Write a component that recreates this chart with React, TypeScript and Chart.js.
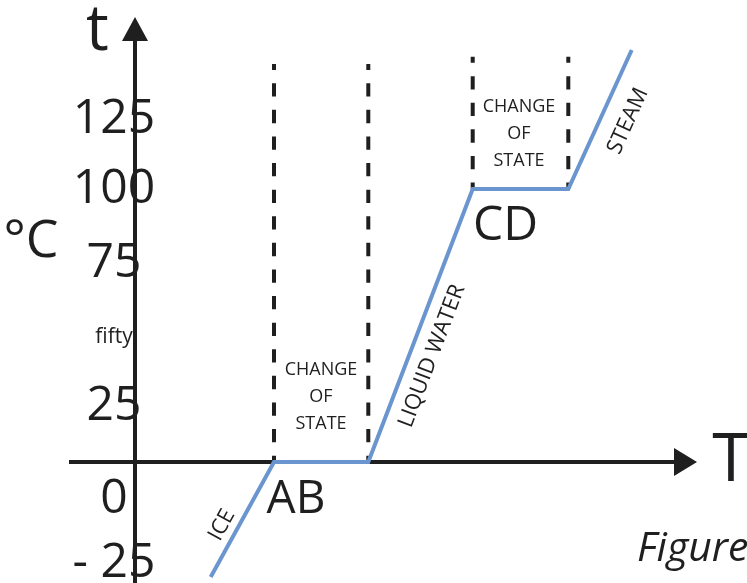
import React, { useEffect, useRef } from "react";
import { Chart, registerables } from "chart.js";

Chart.register(...registerables);

// ---- data (T = heat / time units, temp = °C) ----
const curveT = [7.57, 13.9, 23.33, 33.77, 43.33, 49.67];
const curveTemp = [-42.1, 0, 0, 100, 100, 150.9];

// dashed "change of state" boundaries: at the plateau ends
const dashT = [13.9, 23.33, 33.77, 43.33];
const dashBottom = [0, 0, 100, 100];
const dashTop = [145.8, 145.8, 148.4, 148.4];

// tick labels on the vertical axis and where they sit (°C)
const tickLabels = ["125", "100", "75", "fifty", "25", "0", "- 25"];
const tickAnchors = [120.5, 94.9, 67.8, 43.6, 15.4, -18.7, -42.1];
const tickAnchorT = -2.1;

// axis geometry in data units
const xAxisStartT = -6.6;
const xAxisTipT = 56.2;
const yAxisTipTemp = 163;

// scale ranges
const tMin = -13.5;
const tMax = 61.2;
const tempMin = -44.32;
const tempMax = 169.23;

// text annotations
const phaseLabels = ["ICE", "LIQUID WATER", "STEAM"];
const phaseSegment = [0, 2, 4];
const phaseT = [8.7, 29.7, 49.3];
const phaseTemp = [-23.1, 38.8, 124.9];

const pointLabels = ["AB", "CD"];
const pointLabelT = [16.1, 37.05];
const pointLabelTemp = [-18.7, 81.3];

const stateLines = ["CHANGE", "OF", "STATE"];
const stateT = [18.6, 38.4];
const stateTemp = [31.9, 128.2];

const ink = "#1f1f1f";
const blue = "#6a95cf";
const family = "'Open Sans', 'Noto Sans', sans-serif";

const diagramPlugin = {
  id: "heatingDiagram",
  beforeDatasetsDraw(chart: any) {
    const { ctx, chartArea, scales } = chart;
    const xs = scales.x;
    const ys = scales.y;
    const ox = xs.getPixelForValue(0);
    const oy = ys.getPixelForValue(0);
    ctx.save();
    ctx.strokeStyle = ink;
    ctx.fillStyle = ink;
    ctx.lineWidth = 4;
    // vertical axis
    const yTip = ys.getPixelForValue(yAxisTipTemp);
    ctx.beginPath();
    ctx.moveTo(ox, chartArea.bottom);
    ctx.lineTo(ox, yTip + 20);
    ctx.stroke();
    ctx.beginPath();
    ctx.moveTo(ox, yTip);
    ctx.lineTo(ox - 13, yTip + 24);
    ctx.lineTo(ox + 13, yTip + 24);
    ctx.closePath();
    ctx.fill();
    // horizontal axis
    const xStart = xs.getPixelForValue(xAxisStartT);
    const xTip = xs.getPixelForValue(xAxisTipT);
    ctx.beginPath();
    ctx.moveTo(xStart, oy);
    ctx.lineTo(xTip - 20, oy);
    ctx.stroke();
    ctx.beginPath();
    ctx.moveTo(xTip, oy);
    ctx.lineTo(xTip - 23, oy - 14);
    ctx.lineTo(xTip - 23, oy + 14);
    ctx.closePath();
    ctx.fill();
    ctx.restore();
  },
  afterDatasetsDraw(chart: any) {
    const { ctx, scales } = chart;
    const xs = scales.x;
    const ys = scales.y;
    const px = (v: number) => xs.getPixelForValue(v);
    const py = (v: number) => ys.getPixelForValue(v);
    ctx.save();
    ctx.fillStyle = ink;

    const put = (
      s: string,
      x: number,
      y: number,
      font: string,
      align: CanvasTextAlign = "center",
      baseline: CanvasTextBaseline = "alphabetic"
    ) => {
      ctx.font = font;
      ctx.textAlign = align;
      ctx.textBaseline = baseline;
      ctx.fillText(s, x, y);
    };

    // axis names
    put("t", px(-3.75), py(150.9), `64px ${family}`);
    put("T", px(59.6), py(-7.0), `68px ${family}`);
    put("°C", px(-10.4), py(75.1), `52px ${family}`);

    // vertical tick labels
    tickLabels.forEach((lab, i) => {
      const size = lab === "fifty" ? 21 : 48;
      put(lab, px(tickAnchorT), py(tickAnchors[i]), `${size}px ${family}`);
    });

    // AB / CD
    pointLabels.forEach((lab, i) => {
      put(lab, px(pointLabelT[i]), py(pointLabelTemp[i]), `${i === 0 ? 46 : 48}px ${family}`);
    });

    // change of state blocks
    stateT.forEach((t, i) => {
      stateLines.forEach((line, j) => {
        put(line, px(t), py(stateTemp[i]) + j * 27, `18px ${family}`);
      });
    });

    // phase labels rotated along their segment
    phaseLabels.forEach((lab, i) => {
      const k = phaseSegment[i];
      const dx = px(curveT[k + 1]) - px(curveT[k]);
      const dy = py(curveTemp[k + 1]) - py(curveTemp[k]);
      const ang = Math.atan2(dy, dx);
      ctx.save();
      ctx.translate(px(phaseT[i]), py(phaseTemp[i]));
      ctx.rotate(ang);
      put(lab, 0, 0, `22px ${family}`, "center", "middle");
      ctx.restore();
    });

    // caption (cut off at the edge)
    put("Figure", px(50.2), py(-36.3), `italic 41px ${family}`, "left");
    ctx.restore();
  },
};

export default function App() {
  const ref = useRef<HTMLCanvasElement | null>(null);

  useEffect(() => {
    document.body.style.margin = "0";
    if (!ref.current) return;
    const dashed = dashT.map((t, i) => ({
      data: [
        { x: t, y: dashTop[i] },
        { x: t, y: dashBottom[i] },
      ],
      showLine: true,
      borderColor: ink,
      borderWidth: 4,
      borderDash: [13.3, 13.3],
      borderDashOffset: 7.3,
      pointRadius: 0,
      fill: false,
    }));
    const chart = new Chart(ref.current, {
      type: "scatter",
      data: {
        datasets: [
          {
            data: curveT.map((t, i) => ({ x: t, y: curveTemp[i] })),
            showLine: true,
            borderColor: blue,
            borderWidth: 4,
            pointRadius: 0,
            tension: 0,
            fill: false,
          },
          ...dashed,
        ],
      },
      options: {
        responsive: false,
        animation: false,
        events: [],
        layout: { padding: 0, autoPadding: false } as any,
        plugins: { legend: { display: false }, tooltip: { enabled: false } },
        scales: {
          x: { type: "linear", display: false, min: tMin, max: tMax },
          y: { type: "linear", display: false, min: tempMin, max: tempMax },
        },
      },
      plugins: [diagramPlugin],
    });
    if ((document as any).fonts) {
      Promise.all([
        document.fonts.load(`48px 'Open Sans'`),
        document.fonts.load(`italic 38px 'Open Sans'`),
      ])
        .then(() => chart.update())
        .catch(() => {});
    }
    return () => chart.destroy();
  }, []);

  return (
    <div style={{ position: "absolute", left: 0, top: 0, width: 747, height: 583, background: "#fff" }}>
      <canvas ref={ref} width={747} height={583} />
    </div>
  );
}
